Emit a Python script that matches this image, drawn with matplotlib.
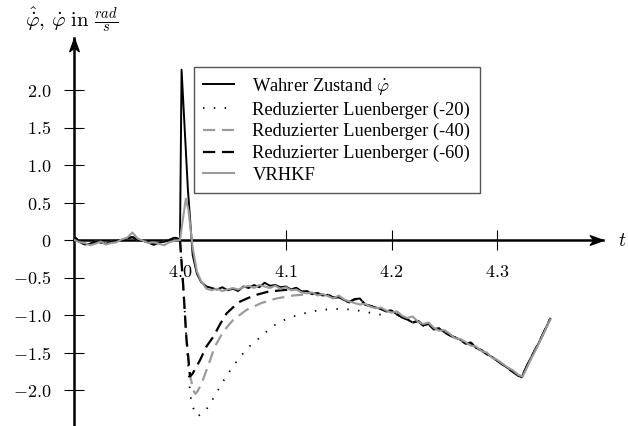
import numpy as np
import matplotlib
matplotlib.use("Agg")
import matplotlib.pyplot as plt
from matplotlib.path import Path

plt.rcParams["mathtext.fontset"] = "cm"

# ====== DATA ======
# true state (Wahrer Zustand)
true_t = [3.900, 3.905, 3.910, 3.915, 3.920, 3.925, 3.930, 3.935, 3.940, 3.945,
          3.950, 3.955, 3.960, 3.965, 3.970, 3.975, 3.980, 3.985, 3.990, 3.995,
          3.998, 4.000, 4.0015, 4.0075, 4.012, 4.016, 4.020,
          4.025, 4.030, 4.035, 4.040, 4.045, 4.050, 4.055, 4.060, 4.065, 4.070,
          4.075, 4.080, 4.085, 4.090, 4.095, 4.100, 4.105, 4.110, 4.115, 4.120,
          4.125, 4.130, 4.135, 4.140, 4.145, 4.150, 4.155, 4.160, 4.165, 4.170,
          4.175, 4.180, 4.185, 4.190, 4.195, 4.200, 4.205, 4.210, 4.215, 4.220,
          4.225, 4.230, 4.235, 4.240, 4.245, 4.250, 4.255, 4.260, 4.265, 4.270,
          4.275, 4.280, 4.285, 4.290, 4.295, 4.300, 4.305, 4.310, 4.315, 4.320,
          4.323, 4.330, 4.340, 4.350]
true_v = [0.04, -0.02, -0.06, -0.05, -0.02, -0.03, -0.05, -0.02, -0.01, 0.00,
          0.02, 0.04, 0.00, -0.01, -0.03, -0.06, -0.04, -0.02, 0.00, 0.03,
          0.02, 0.00, 2.27, 0.67, -0.20, -0.45, -0.56,
          -0.62, -0.64, -0.66, -0.63, -0.67, -0.65, -0.68, -0.62, -0.64, -0.60,
          -0.63, -0.57, -0.61, -0.60, -0.63, -0.62, -0.66, -0.64, -0.69, -0.68,
          -0.72, -0.71, -0.74, -0.73, -0.77, -0.76, -0.80, -0.83, -0.79, -0.78,
          -0.86, -0.88, -0.90, -0.92, -0.95, -0.94, -0.99, -1.03, -1.06, -1.10,
          -1.08, -1.14, -1.12, -1.19, -1.18, -1.23, -1.27, -1.30, -1.33, -1.38,
          -1.37, -1.44, -1.47, -1.52, -1.56, -1.61, -1.66, -1.71, -1.76, -1.81,
          -1.83, -1.62, -1.35, -1.05]

# VRHKF
vr_t = [3.900, 3.905, 3.910, 3.915, 3.920, 3.925, 3.930, 3.935, 3.940, 3.945,
        3.950, 3.955, 3.960, 3.965, 3.970, 3.975, 3.980, 3.985, 3.990, 3.995,
        4.000, 4.003, 4.0055, 4.008, 4.012, 4.016, 4.020, 4.025,
        4.030, 4.035, 4.040, 4.045, 4.050, 4.055, 4.060, 4.065, 4.070, 4.075,
        4.080, 4.085, 4.090, 4.095, 4.100, 4.105, 4.110, 4.115, 4.120, 4.125,
        4.130, 4.135, 4.140, 4.145, 4.150, 4.155, 4.160, 4.165, 4.170, 4.175,
        4.180, 4.185, 4.190, 4.195, 4.200, 4.205, 4.210, 4.215, 4.220, 4.225,
        4.230, 4.235, 4.240, 4.245, 4.250, 4.255, 4.260, 4.265, 4.270, 4.275,
        4.280, 4.285, 4.290, 4.295, 4.300, 4.305, 4.310, 4.315, 4.320, 4.324,
        4.330, 4.340, 4.350]
vr_v = [0.00, -0.03, -0.04, -0.07, -0.05, -0.02, -0.06, -0.04, -0.03, 0.01,
        0.03, 0.10, 0.02, -0.01, -0.04, -0.03, -0.05, -0.07, -0.03, -0.01,
        0.00, 0.30, 0.55, 0.40, -0.10, -0.42, -0.55, -0.65,
        -0.67, -0.65, -0.68, -0.66, -0.64, -0.66, -0.63, -0.61, -0.64, -0.60,
        -0.62, -0.64, -0.61, -0.65, -0.63, -0.67, -0.66, -0.70, -0.71, -0.70,
        -0.74, -0.72, -0.75, -0.78, -0.74, -0.79, -0.82, -0.84, -0.86, -0.85,
        -0.89, -0.91, -0.90, -0.94, -0.97, -0.95, -1.01, -1.04, -1.02, -1.09,
        -1.12, -1.10, -1.17, -1.21, -1.20, -1.25, -1.31, -1.32, -1.36, -1.41,
        -1.42, -1.48, -1.50, -1.57, -1.60, -1.65, -1.70, -1.74, -1.80, -1.82,
        -1.64, -1.36, -1.06]

# reduced Luenberger observers, transient part (before they join the true state)
lb20_t = [4.000, 4.003, 4.006, 4.0088, 4.010, 4.012, 4.0145, 4.0167, 4.0236, 4.029,
          4.034, 4.0385, 4.0435, 4.049, 4.0545, 4.061, 4.067, 4.0747, 4.082, 4.090,
          4.098, 4.107, 4.117, 4.126, 4.135, 4.145, 4.154, 4.163, 4.173, 4.183, 4.192]
lb20_v = [0.00, -0.60, -1.30, -1.90, -2.09, -2.22, -2.31, -2.35, -2.29, -2.17,
          -2.05, -1.94, -1.82, -1.71, -1.60, -1.49, -1.40, -1.31, -1.22, -1.13,
          -1.07, -1.02, -0.98, -0.95, -0.93, -0.92, -0.92, -0.93, -0.95, -0.98, -1.00]
lb20_join = 4.2

lb40_t = [4.000, 4.003, 4.006, 4.0095, 4.0125, 4.0145, 4.0165, 4.0205, 4.0268, 4.033,
          4.041, 4.050, 4.063, 4.077, 4.091, 4.107, 4.123]
lb40_v = [0.00, -0.60, -1.30, -1.80, -2.00, -2.05, -2.02, -1.91, -1.67, -1.42,
          -1.22, -1.07, -0.93, -0.84, -0.78, -0.74, -0.72]
lb40_join = 4.13

lb60_t = [4.000, 4.003, 4.006, 4.0095, 4.012, 4.019, 4.025, 4.0315, 4.038, 4.044,
          4.050, 4.057, 4.065, 4.0725, 4.083, 4.096, 4.105]
lb60_v = [0.00, -0.60, -1.30, -1.82, -1.78, -1.60, -1.42, -1.29, -1.12, -0.98,
          -0.90, -0.82, -0.77, -0.73, -0.69, -0.67, -0.66]
lb60_join = 4.11

xticks = [4.0, 4.1, 4.2, 4.3]
xtick_labels = ["$4.0$", "$4.1$", "$4.2$", "$4.3$"]
yticks = [-2.0, -1.5, -1.0, -0.5, 0, 0.5, 1.0, 1.5, 2.0]
ytick_labels = ["$-2.0$", "$-1.5$", "$-1.0$", "$-0.5$", "$0$", "$0.5$", "$1.0$", "$1.5$", "$2.0$"]

labels = [r"Wahrer Zustand $\dot{\varphi}$",
          "Reduzierter Luenberger (-20)",
          "Reduzierter Luenberger (-40)",
          "Reduzierter Luenberger (-60)",
          "VRHKF"]

true_t = np.array(true_t)
true_v = np.array(true_v)


def observer(t, v, join):
    # pre part + transient + true state after joining
    pre = true_t < 4.0
    post = true_t >= join
    tt = np.concatenate([true_t[pre], t, true_t[post]])
    vv = np.concatenate([true_v[pre], v, true_v[post]])
    return tt, vv


# ====== PLOT ======
fig = plt.figure(figsize=(6.28, 4.26), dpi=100)
ax = fig.add_axes([74.2 / 628, -1.5 / 426, 528.9 / 628, 390 / 426])
ax.set_xlim(3.9, 4.4)
ax.set_ylim(-2.5, 2.7)

gray = "#9b9b9b"
ax.plot(true_t, true_v, color="black", lw=1.4, label=labels[0], zorder=3)
t20, v20 = observer(lb20_t, lb20_v, lb20_join)
ax.plot(t20, v20, color="black", lw=1.3, ls=(0, (0.8, 5.2)), label=labels[1], zorder=3)
t40, v40 = observer(lb40_t, lb40_v, lb40_join)
ax.plot(t40, v40, color=gray, lw=1.6, ls=(0, (5.5, 3)), label=labels[2], zorder=3)
t60, v60 = observer(lb60_t, lb60_v, lb60_join)
ax.plot(t60, v60, color="black", lw=1.6, ls=(0, (5.5, 3)), label=labels[3], zorder=3)
ax.plot(vr_t, vr_v, color=gray, lw=1.5, label=labels[4], zorder=3)

# axes in the middle
for s in ["top", "right"]:
    ax.spines[s].set_visible(False)
ax.spines["bottom"].set_position(("data", 0))
ax.spines["left"].set_linewidth(1.8)
ax.spines["bottom"].set_linewidth(1.8)
ax.spines["left"].set_zorder(2)
ax.spines["bottom"].set_zorder(2)

ax.set_xticks(xticks)
ax.set_xticklabels(xtick_labels)
ax.set_yticks(yticks)
ax.set_yticklabels(ytick_labels)
ax.tick_params(direction="inout", length=15, width=0.8, labelsize=13, pad=9)

# stealth arrow heads
arrow = Path([(0, 0), (-1, 0.36), (-0.72, 0), (-1, -0.36), (0, 0)],
             [Path.MOVETO, Path.LINETO, Path.LINETO, Path.LINETO, Path.CLOSEPOLY])
ax.plot(1, 0, marker=arrow, ms=19, color="black", transform=ax.get_yaxis_transform(), clip_on=False)
rot = Path([(0, 0), (-0.36, -1), (0, -0.72), (0.36, -1), (0, 0)],
           [Path.MOVETO, Path.LINETO, Path.LINETO, Path.LINETO, Path.CLOSEPOLY])
ax.plot(3.9, 1, marker=rot, ms=19, color="black", transform=ax.get_xaxis_transform(), clip_on=False)

ax.annotate("$t$", xy=(1, 0), xycoords=ax.get_yaxis_transform(), xytext=(11, 0),
            textcoords="offset points", ha="left", va="center", fontsize=14)
fig.text(25 / 628, 1 - 20 / 426, r"$\hat{\dot{\varphi}},\,\dot{\varphi}\ \mathrm{in}\ \frac{rad}{s}$",
         ha="left", va="center", fontsize=15)

leg = ax.legend(loc="upper left", bbox_to_anchor=(194 / 628, 1 - 66.7 / 426),
                bbox_transform=fig.transFigure, prop={"family": "Liberation Serif", "size": 13.3},
                fancybox=False, framealpha=1, edgecolor="#555555", borderaxespad=0,
                handlelength=1.66, handletextpad=1.0, borderpad=0.5, labelspacing=0.24)
leg.get_frame().set_linewidth(1.0)

fig.savefig("out.png", dpi=100)
